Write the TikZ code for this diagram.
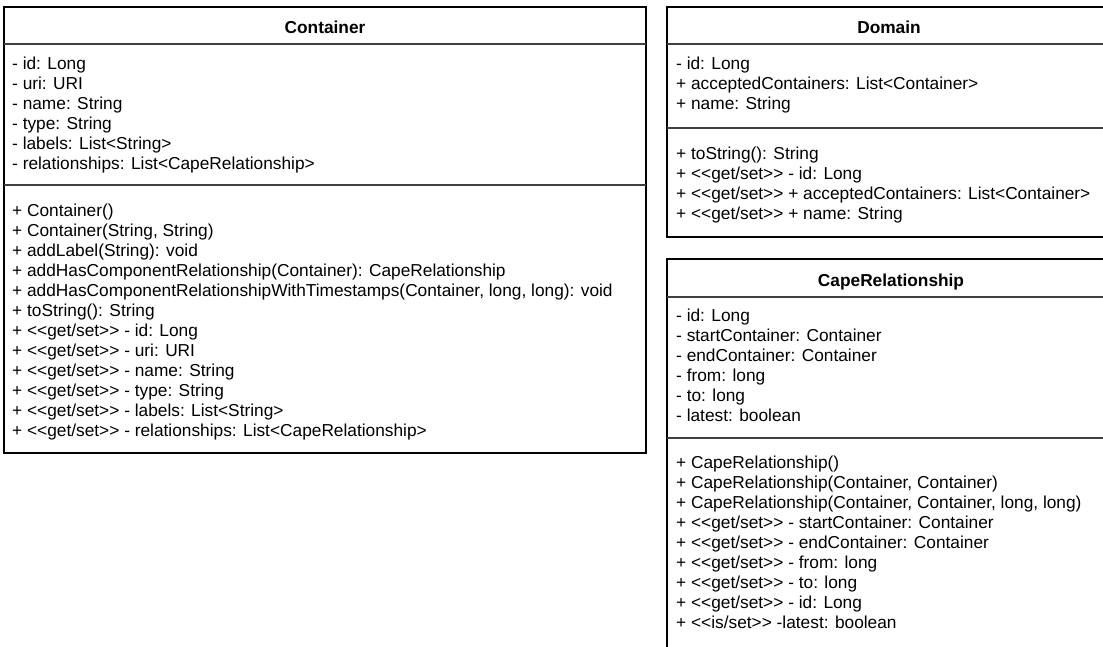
\documentclass[tikz,border=0pt]{standalone}
\usepackage{fontspec}
\setmainfont{Liberation Sans}[Ligatures=TeXOff]
\begin{document}
\begin{tikzpicture}[x=1pt,y=-1pt,
  txt/.style={anchor=base west, inner sep=0pt, font=\fontsize{17.3}{20}\selectfont},
  ttl/.style={anchor=base, inner sep=0pt, font=\fontsize{17.3}{20}\selectfont\bfseries},
  frame/.style={draw=black, line width=1.4pt},
  sepline/.style={draw=black!75, line width=1.4pt}]
\useasboundingbox (0,0) rectangle (1103,646);
% ---------------- Container ----------------
\draw[frame] (4,7) rectangle (646,453);
\draw[sepline] (4,44) -- (646,44);
\draw[sepline] (4,185) -- (646,185);
\node[ttl] (ctitle) at (325,33) {Container};
\foreach \t [count=\i from 0] in {{- id: Long},{- uri: URI},{- name: String},{- type: String},{- labels: List<String>},{- relationships: List<CapeRelationship>}}
  \node[txt] (ca\i) at (12,69+20*\i) {\t};
\foreach \t [count=\i from 0] in {{+ Container()},{+ Container(String, String)},{+ addLabel(String): void},{+ addHasComponentRelationship(Container): CapeRelationship},{+ addHasComponentRelationshipWithTimestamps(Container, long, long): void},{+ toString(): String},{+ <<get/set>> - id: Long},{+ <<get/set>> - uri: URI},{+ <<get/set>> - name: String},{+ <<get/set>> - type: String},{+ <<get/set>> - labels: List<String>},{+ <<get/set>> - relationships: List<CapeRelationship>}}
  \node[txt] (cm\i) at (12,216+20*\i) {\t};
% ---------------- Domain ----------------
\draw[frame] (1110,7) -- (667,7) -- (667,237) -- (1110,237);
\draw[sepline] (667,44) -- (1110,44);
\draw[sepline] (667,128) -- (1110,128);
\node[ttl] (dtitle) at (889,33) {Domain};
\foreach \t [count=\i from 0] in {{- id: Long},{+ acceptedContainers: List<Container>},{+ name: String}}
  \node[txt] (da\i) at (676,69+20*\i) {\t};
\foreach \t [count=\i from 0] in {{+ toString(): String},{+ <<get/set>> - id: Long},{+ <<get/set>> + acceptedContainers: List<Container>},{+ <<get/set>> + name: String}}
  \node[txt] (dm\i) at (676,159+20*\i) {\t};
% ---------------- CapeRelationship ----------------
\draw[frame] (1110,259) -- (667,259) -- (667,660);
\draw[sepline] (667,297) -- (1110,297);
\draw[sepline] (667,438) -- (1110,438);
\node[ttl] (rtitle) at (891,286) {CapeRelationship};
\foreach \t [count=\i from 0] in {{- id: Long},{- startContainer: Container},{- endContainer: Container},{- from: long},{- to: long},{- latest: boolean}}
  \node[txt] (ra\i) at (676,321+20*\i) {\t};
\foreach \t [count=\i from 0] in {{+ CapeRelationship()},{+ CapeRelationship(Container, Container)},{+ CapeRelationship(Container, Container, long, long)},{+ <<get/set>> - startContainer: Container},{+ <<get/set>> - endContainer: Container},{+ <<get/set>> - from: long},{+ <<get/set>> - to: long},{+ <<get/set>> - id: Long},{+ <<is/set>> -latest: boolean}}
  \node[txt] (rm\i) at (676,468+20*\i) {\t};
\end{tikzpicture}
\end{document}
